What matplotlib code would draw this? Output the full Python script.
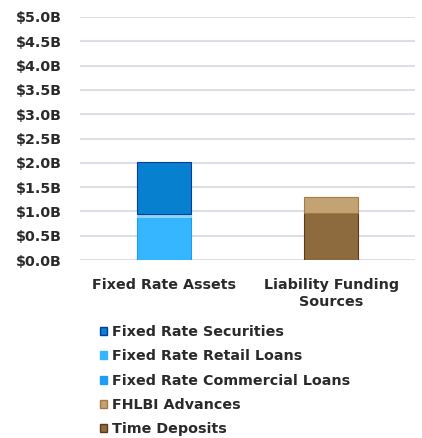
import matplotlib
matplotlib.use("Agg")
import matplotlib.pyplot as plt
from matplotlib.patches import Patch

categories = ["Fixed Rate Assets", "Liability Funding\nSources"]
# values in $B
retail_loans = [0.88, 0.0]
commercial_loans = [0.06, 0.0]
securities = [1.08, 0.0]
time_deposits = [0.0, 0.97]
fhlbi_advances = [0.0, 0.33]
yticks = [0, 0.5, 1.0, 1.5, 2.0, 2.5, 3.0, 3.5, 4.0, 4.5, 5.0]
ytick_labels = ["$0.0B", "$0.5B", "$1.0B", "$1.5B", "$2.0B", "$2.5B", "$3.0B",
                "$3.5B", "$4.0B", "$4.5B", "$5.0B"]

plt.rcParams['font.family'] = ['DejaVu Sans']

fig = plt.figure(figsize=(4.22, 4.38), dpi=100)
ax = fig.add_axes([80/422, 1-260/438, 335/422, 243/438])

x = [0, 1]
w = 0.32
c_sec, e_sec = "#0780d0", "#0a3aa0"
c_ret, e_ret = "#35b6ff", "#1a9cf0"
c_com, e_com = "#8ad6ff", "#8ad6ff"
c_fhl, e_fhl = "#c3a374", "#a87a40"
c_tim, e_tim = "#8d6b3e", "#5c3a14"

series = [(retail_loans, c_ret, e_ret), (commercial_loans, c_com, e_com),
          (securities, c_sec, e_sec), (time_deposits, c_tim, e_tim),
          (fhlbi_advances, c_fhl, e_fhl)]
bottom = [0.0, 0.0]
for vals, fc, ec in series:
    for i in range(len(x)):
        if vals[i] > 0:
            ax.bar(x[i], vals[i], w, bottom=bottom[i], color=fc, edgecolor=ec,
                   linewidth=0.8, zorder=3)
        bottom[i] += vals[i]

ax.set_xlim(-0.5, 1.5)
ax.set_ylim(0, 5.0)
ax.set_yticks(yticks)
ax.set_yticklabels(ytick_labels, fontsize=10.3, fontweight='bold', color='#2a2a2a')
ax.set_xticks(x)
ax.set_xticklabels(categories, fontsize=10.3, fontweight='bold', color='#2a2a2a', linespacing=1.25)
ax.tick_params(length=0, axis='y', pad=13)
ax.tick_params(length=0, axis='x', pad=13)
for s in ax.spines.values():
    s.set_visible(False)
ax.yaxis.grid(True, color="#d3d9e3", linewidth=1.2, zorder=0)
ax.set_axisbelow(True)

handles = [Patch(facecolor=c_sec, edgecolor=e_sec, label="Fixed Rate Securities"),
           Patch(facecolor=c_ret, edgecolor=c_ret, label="Fixed Rate Retail Loans"),
           Patch(facecolor="#1e9ef5", edgecolor="#1e9ef5", label="Fixed Rate Commercial Loans"),
           Patch(facecolor=c_fhl, edgecolor=e_fhl, label="FHLBI Advances"),
           Patch(facecolor=c_tim, edgecolor=e_tim, label="Time Deposits")]
fig.legend(handles=handles, loc='upper left', bbox_to_anchor=(93/422, 1-318/438),
           frameon=False, handlelength=0.5, handleheight=0.5, handletextpad=0.3,
           labelspacing=0.72, prop={'size': 10.3, 'weight': 'bold'}, borderpad=0,
           labelcolor='#2a2a2a')

fig.savefig("out.png", dpi=100)
